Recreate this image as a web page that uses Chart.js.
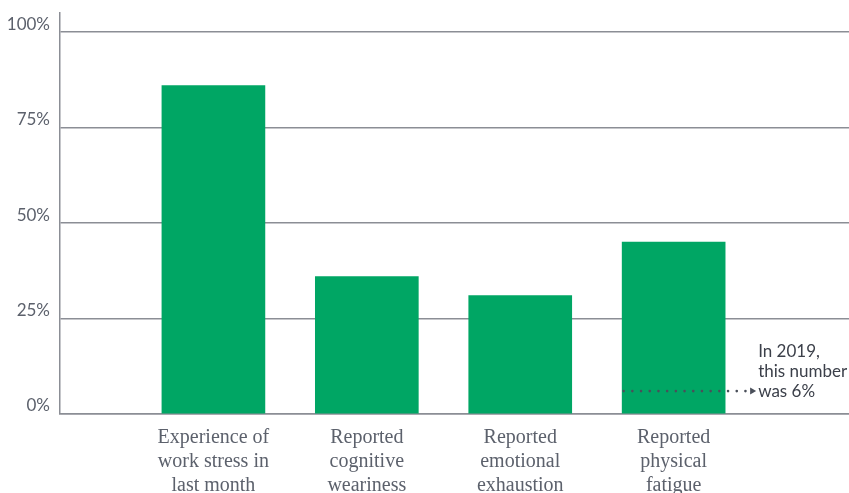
<!DOCTYPE html>
<html>
<head>
<meta charset="utf-8">
<script src="https://cdn.jsdelivr.net/npm/chart.js@4.4.0/dist/chart.umd.min.js"></script>
<style>
  html, body { margin: 0; padding: 0; background: #ffffff; }
  #wrap { width: 849px; height: 493px; position: relative; }
</style>
</head>
<body>
<div id="wrap"><canvas id="stressChart"></canvas></div>
<script>
// Survey results (share of respondents, %)
const categories = [
    ['Experience of', 'work stress in', 'last month'],
    ['Reported', 'cognitive', 'weariness'],
    ['Reported', 'emotional', 'exhaustion'],
    ['Reported', 'physical', 'fatigue']
];
const shares = [86, 36, 31, 45];
const yTicks = [0, 25, 50, 75, 100];

// 2019 comparison for physical fatigue
const fatigue2019 = 6;
const noteLines = ['In 2019,', 'this number', 'was 6%'];

const green = '#00a664';
const axisGrey = '#8b8e95';

// Dotted arrow from the fatigue bar out to the side note
const notePlugin = {
    id: 'note2019',
    afterDatasetsDraw(chart) {
        const ctx = chart.ctx;
        const bar = chart.getDatasetMeta(0).data[3];
        const y = chart.scales.y.getPixelForValue(fatigue2019);
        const left = bar.x - bar.width / 2;
        const arrowX = left + 131;

        ctx.save();
        ctx.fillStyle = '#4a4f5a';
        for (let x = left + 1.5; x < arrowX - 4; x += 8.7) {
            ctx.beginPath();
            ctx.arc(x, y, 1.3, 0, Math.PI * 2);
            ctx.fill();
        }
        ctx.beginPath();
        ctx.moveTo(arrowX - 3, y - 3.5);
        ctx.lineTo(arrowX + 3, y);
        ctx.lineTo(arrowX - 3, y + 3.5);
        ctx.closePath();
        ctx.fill();

        ctx.fillStyle = '#3c404a';
        ctx.font = '17px Lato, sans-serif';
        ctx.textAlign = 'left';
        ctx.textBaseline = 'middle';
        const textX = arrowX + 5;
        noteLines.forEach(function(line, i) {
            ctx.fillText(line, textX, y - 40 + i * 20);
        });
        ctx.restore();
    }
};

new Chart(document.getElementById('stressChart'), {
    type: 'bar',
    data: {
        datasets: [{
            data: shares.map(function(v, i) { return { x: i + 1, y: v }; }),
            backgroundColor: green,
            borderWidth: 0,
            barThickness: 103
        }]
    },
    options: {
        responsive: true,
        maintainAspectRatio: false,
        animation: false,
        layout: { padding: { top: 13, right: 0, left: 0, bottom: 0 } },
        plugins: {
            legend: { display: false },
            tooltip: { enabled: false }
        },
        scales: {
            x: {
                type: 'linear',
                min: 0,
                max: 5.143,
                offset: false,
                grid: { display: false },
                border: { display: true, color: axisGrey, width: 1.5 },
                afterBuildTicks: function(scale) {
                    scale.ticks = categories.map(function(c, i) { return { value: i + 1 }; });
                },
                afterFit: function(scale) {
                    scale.height = 79;
                    scale.paddingLeft = 0;
                    scale.paddingRight = 0;
                },
                ticks: {
                    autoSkip: false,
                    maxRotation: 0,
                    padding: 4,
                    color: '#5c616c',
                    font: { family: "'Liberation Serif', serif", size: 20, lineHeight: 1.2 },
                    callback: function(value) { return categories[value - 1]; }
                }
            },
            y: {
                min: 0,
                max: 105,
                grid: { color: axisGrey, lineWidth: 1.5, drawTicks: false },
                border: { display: true, color: axisGrey, width: 1.5 },
                afterBuildTicks: function(scale) {
                    scale.ticks = yTicks.map(function(v) { return { value: v }; });
                },
                afterFit: function(scale) {
                    scale.width = 60;
                    scale.paddingTop = 0;
                    scale.paddingBottom = 0;
                },
                ticks: {
                    padding: 10,
                    labelOffset: -8,
                    color: '#5c616c',
                    font: { family: 'Lato, sans-serif', size: 17 },
                    callback: function(value) { return value + '%'; }
                }
            }
        }
    },
    plugins: [notePlugin]
});
</script>
</body>
</html>
